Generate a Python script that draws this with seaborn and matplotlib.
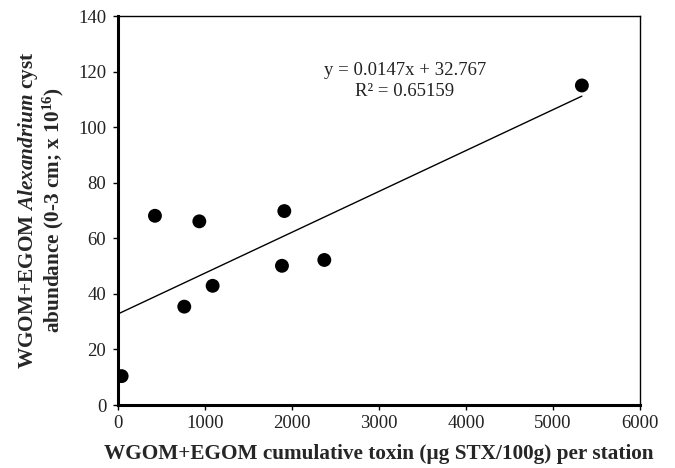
import numpy as np
import pandas as pd
import matplotlib
matplotlib.use("Agg")
import matplotlib.pyplot as plt
import seaborn as sns

# Cumulative toxin per station vs. cyst abundance
toxin = [42, 425, 762, 935, 1088, 1885, 1912, 2372, 5333]
cysts = [10.4, 68.1, 35.4, 66.1, 42.9, 50.1, 69.8, 52.2, 115.0]

# Linear fit as reported
slope = 0.0147
intercept = 32.767
r_squared = 0.65159

x_ticks = [0, 1000, 2000, 3000, 4000, 5000, 6000]
y_ticks = [0, 20, 40, 60, 80, 100, 120, 140]

sns.set_style("ticks")
plt.rcParams["font.family"] = ["Liberation Serif", "DejaVu Serif"]
plt.rcParams["mathtext.fontset"] = "custom"
plt.rcParams["mathtext.rm"] = "Liberation Serif:bold"
plt.rcParams["mathtext.it"] = "Liberation Serif:italic:bold"
plt.rcParams["mathtext.bf"] = "Liberation Serif:bold"

df = pd.DataFrame({"toxin": toxin, "cysts": cysts})
fit_x = np.array([0, max(toxin)])
fit = pd.DataFrame({"x": fit_x, "y": slope * fit_x + intercept})

fig = plt.figure(figsize=(6.75, 4.68), dpi=100)
ax = fig.add_axes([0.1748, 0.1346, 0.948 - 0.1748, 0.9658 - 0.1346])

sns.lineplot(data=fit, x="x", y="y", ax=ax, color="black", linewidth=1.0)
sns.scatterplot(data=df, x="toxin", y="cysts", ax=ax, color="black",
                s=100, edgecolor="none", zorder=3)

ax.set_xlim(0, 6000)
ax.set_ylim(0, 140)
ax.set_xticks(x_ticks)
ax.set_yticks(y_ticks)
ax.tick_params(axis="both", labelsize=13.5, direction="out", length=3.5,
               width=1.0, color="black", labelcolor="#222222")
ax.tick_params(axis="x", pad=4)
ax.tick_params(axis="y", pad=5)

for side in ["left", "bottom"]:
    ax.spines[side].set_linewidth(2.2)
for side in ["top", "right"]:
    ax.spines[side].set_visible(True)
    ax.spines[side].set_linewidth(1.0)
for sp in ax.spines.values():
    sp.set_color("black")

ax.text(3300, 120.5, f"y = {slope}x + {intercept}", ha="center", va="center",
        fontsize=13.5, color="#222222")
ax.text(3300, 113.0, f"R² = {r_squared}", ha="center", va="center",
        fontsize=13.5, color="#222222")

ax.set_xlabel("WGOM+EGOM cumulative toxin (µg STX/100g) per station",
              fontsize=15.3, fontweight="bold", labelpad=8)
ax.set_ylabel("WGOM+EGOM $\\mathit{Alexandrium}$ cyst\n"
              "abundance (0-3 cm; x 10$^{16}$)",
              fontsize=15.3, fontweight="bold", labelpad=9, linespacing=1.0)

fig.savefig("out.png", dpi=100)
